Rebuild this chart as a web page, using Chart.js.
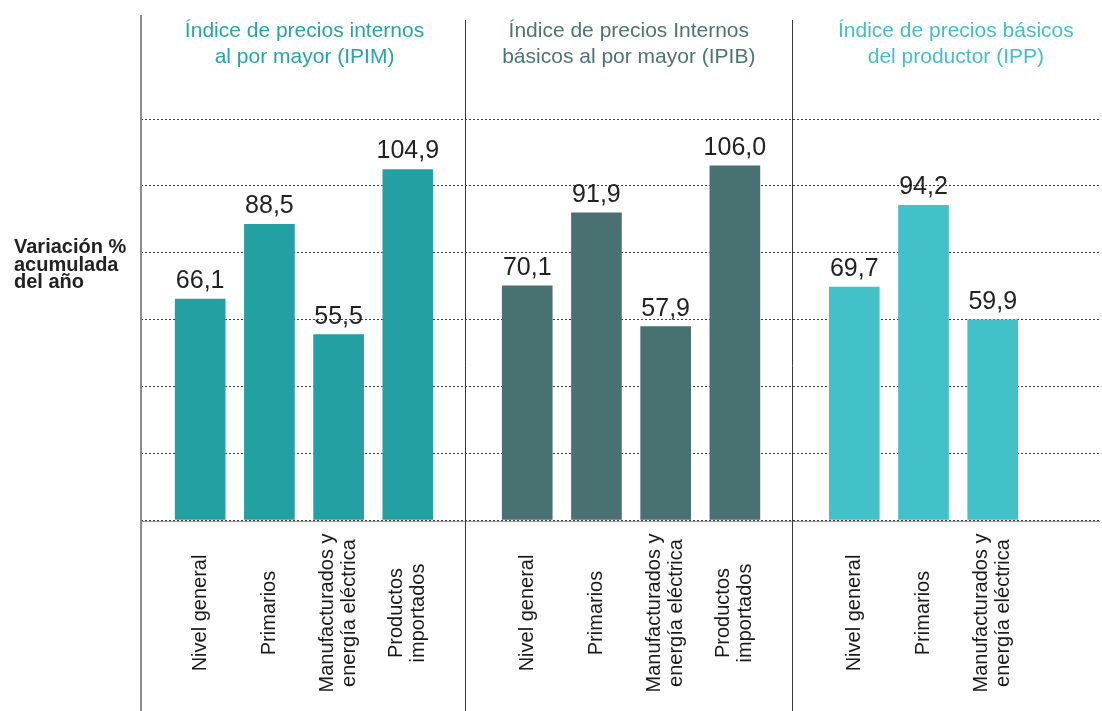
<!DOCTYPE html>
<html><head><meta charset="utf-8">
<script src="https://cdn.jsdelivr.net/npm/chart.js@4.4.1/dist/chart.umd.min.js"></script>
<style>html,body{margin:0;padding:0;background:#fff;}#wrap{width:1102px;height:711px;position:relative;}</style>
</head><body><div id="wrap"><canvas id="c" width="1102" height="711"></canvas></div>
<script>
const groupTitles = [
  ['Índice de precios internos', 'al por mayor (IPIM)'],
  ['Índice de precios Internos', 'básicos al por mayor (IPIB)'],
  ['Índice de precios básicos', 'del productor (IPP)']
];
const titleColors = ['#27a4a5', '#4d7474', '#44bfc7'];
const barColors = ['#22a0a2', '#4a7172', '#42c1c8'];
const ipimCategories = [['Nivel general'], ['Primarios'], ['Manufacturados y', 'energía eléctrica'], ['Productos', 'importados']];
const ipimValues = [66.1, 88.5, 55.5, 104.9];
const ipibCategories = [['Nivel general'], ['Primarios'], ['Manufacturados y', 'energía eléctrica'], ['Productos', 'importados']];
const ipibValues = [70.1, 91.9, 57.9, 106.0];
const ippCategories = [['Nivel general'], ['Primarios'], ['Manufacturados y', 'energía eléctrica']];
const ippValues = [69.7, 94.2, 59.9];
const yTicks = [0, 20, 40, 60, 80, 100, 120];
const yAxisLabel = ['Variación %', 'acumulada', 'del año'];

const GROUP_SPAN = 4.725;  // slots from one group's first bar to the next group's first bar
const LEFT_PAD = 0.855;    // slots between the left edge and the first bar
const SEP_OFFSET = 0.895;  // slots between a group separator and that group's first bar
const FONT = '"Liberation Sans", Arial, Helvetica, sans-serif';

const groupCats = [ipimCategories, ipibCategories, ippCategories];
const groupVals = [ipimValues, ipibValues, ippValues];
const datasets = groupVals.map((vals, g) => ({
  label: groupTitles[g].join(' '),
  data: vals.map((v, i) => ({ x: g * GROUP_SPAN + i, y: v })),
  categories: groupCats[g],
  backgroundColor: barColors[g],
  barThickness: 50,
  grouped: false
}));

const fmt = v => v.toFixed(1).replace('.', ',');

const decor = {
  id: 'decor',
  afterDraw(chart) {
    const ctx = chart.ctx;
    const xs = chart.scales.x;
    const ca = chart.chartArea;
    ctx.save();
    // baseline solid
    ctx.strokeStyle = '#9a9a9a';
    ctx.lineWidth = 1;
    ctx.beginPath();
    ctx.moveTo(ca.left, ca.bottom + 1.5);
    ctx.lineTo(ca.right, ca.bottom + 1.5);
    ctx.stroke();
    // separators and titles
    for (let g = 0; g < 3; g++) {
      const sepVal = g === 0 ? -LEFT_PAD : g * GROUP_SPAN - SEP_OFFSET;
      const px = Math.round(xs.getPixelForValue(sepVal));
      ctx.strokeStyle = g === 0 ? '#8c8c8c' : '#3a3a3a';
      ctx.lineWidth = g === 0 ? 2 : 1;
      ctx.beginPath();
      ctx.moveTo(px + (g === 0 ? 0 : 0.5), g === 0 ? 15 : 20);
      ctx.lineTo(px + (g === 0 ? 0 : 0.5), 711);
      ctx.stroke();
      const cx = xs.getPixelForValue(sepVal + GROUP_SPAN / 2);
      ctx.fillStyle = titleColors[g];
      ctx.font = '21px ' + FONT;
      ctx.textAlign = 'center';
      ctx.textBaseline = 'alphabetic';
      groupTitles[g].forEach((line, k) => ctx.fillText(line, cx, 37 + k * 26));
    }
    // value labels and category labels
    chart.data.datasets.forEach((ds, di) => {
      const meta = chart.getDatasetMeta(di);
      meta.data.forEach((el, i) => {
        ctx.fillStyle = '#222';
        ctx.font = '25px ' + FONT;
        ctx.textAlign = 'center';
        ctx.textBaseline = 'alphabetic';
        ctx.fillText(fmt(ds.data[i].y), el.x, el.y - 11);
        const lines = ds.categories[i];
        ctx.save();
        ctx.translate(el.x, 613);
        ctx.rotate(-Math.PI / 2);
        ctx.font = '20px ' + FONT;
        ctx.fillStyle = '#1a1a1a';
        ctx.textBaseline = 'middle';
        const lh = 22;
        lines.forEach((ln, k) => ctx.fillText(ln, 0, (k - (lines.length - 1) / 2) * lh));
        ctx.restore();
      });
    });
    // y-axis label
    ctx.fillStyle = '#222';
    ctx.font = 'bold 20px ' + FONT;
    ctx.textAlign = 'left';
    ctx.textBaseline = 'alphabetic';
    yAxisLabel.forEach((ln, k) => ctx.fillText(ln, 14, 253 + k * 17.5));
    ctx.restore();
  }
};

new Chart(document.getElementById('c'), {
  type: 'bar',
  data: { datasets },
  options: {
    responsive: false,
    animation: false,
    layout: { padding: { left: 141, right: 2, top: 119, bottom: 191 } },
    plugins: { legend: { display: false }, tooltip: { enabled: false } },
    scales: {
      x: {
        type: 'linear',
        display: false,
        offset: false,
        min: -LEFT_PAD,
        max: 13.0
      },
      y: {
        min: 0,
        max: 120,
        afterBuildTicks: s => { s.ticks = yTicks.map(v => ({ value: v })); },
        ticks: { display: false },
        grid: { color: '#3a3a3a', lineWidth: 1, drawTicks: false },
        border: { display: false, dash: [2, 2] }
      }
    }
  },
  plugins: [decor]
});
</script></body></html>
